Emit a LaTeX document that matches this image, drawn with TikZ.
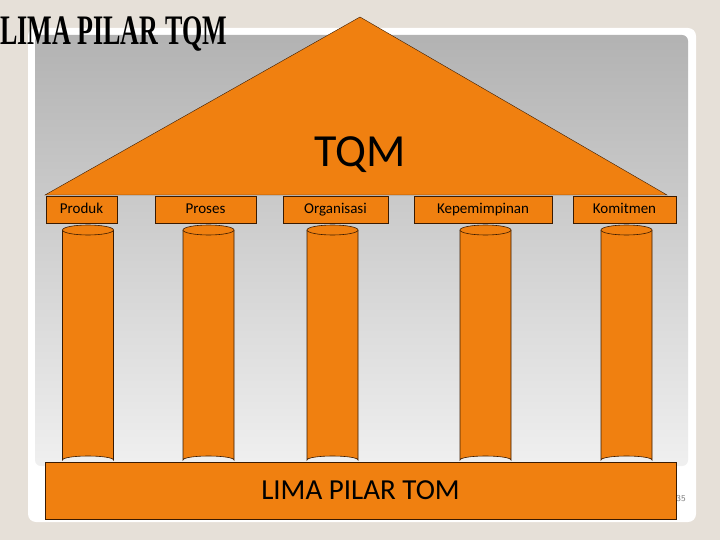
\documentclass[tikz,border=0pt]{standalone}
\usepackage{fontspec}
\setmainfont{Liberation Serif}
\newfontfamily\carlitofont{Carlito}
\definecolor{bg}{HTML}{E6E0D8}
\definecolor{org}{HTML}{F08010}
\definecolor{edge}{HTML}{3A1A00}
\begin{document}
\begin{tikzpicture}[x=1pt,y=-1pt,
  lab/.style={draw=edge,fill=org,font=\carlitofont\fontsize{15}{16}\selectfont,minimum height=27pt,inner sep=0pt,text height=10pt,text depth=3pt},
  pil/.style={draw=edge,fill=org,line width=0.6pt}]
\useasboundingbox (0,0) rectangle (720,540);
\fill[bg] (0,0) rectangle (720,540);
\fill[white,rounded corners=8pt] (28,28) rectangle (696,522);
\shade[top color=gray!60,bottom color=gray!12,rounded corners=6pt] (35,35) rectangle (688,466);
\node[text=gray,font=\sffamily\fontsize{9}{9}\selectfont] (pg) at (681,499) {35};
\draw[edge,fill=org] (360,17) -- (667,195) -- (45,195) -- cycle;
\node[font=\carlitofont\fontsize{46}{46}\selectfont] (tqm) at (360,155) {TQM};
\node[anchor=west,inner sep=0pt] (title) at (0,34) {\scalebox{0.62}[1]{\fontsize{42}{42}\selectfont\bfseries LIMA PILAR TQM}};
\node[lab,minimum width=71pt] (b1) at (81.5,210) {Produk};
\node[lab,minimum width=101pt] (b2) at (205.5,210) {Proses};
\node[lab,minimum width=105pt] (b3) at (335.5,210) {Organisasi};
\node[lab,minimum width=138pt] (b4) at (483,210) {Kepemimpinan};
\node[lab,minimum width=103pt] (b5) at (624.5,210) {Komitmen};
\foreach \cx in {88,208.5,332.5,485.5,626.5}{
  \draw[pil] (\cx-25.5,230) -- (\cx-25.5,460) arc[start angle=180,end angle=360,x radius=25.5,y radius=4] -- (\cx+25.5,230);
  \draw[pil] (\cx,230) ellipse[x radius=25.5,y radius=5];
}
\node[draw=edge,fill=org,minimum width=631pt,minimum height=57pt,inner sep=0pt,font=\carlitofont\fontsize{29}{29}\selectfont] (base) at (360.5,490.5) {LIMA PILAR TOM};
\end{tikzpicture}
\end{document}
